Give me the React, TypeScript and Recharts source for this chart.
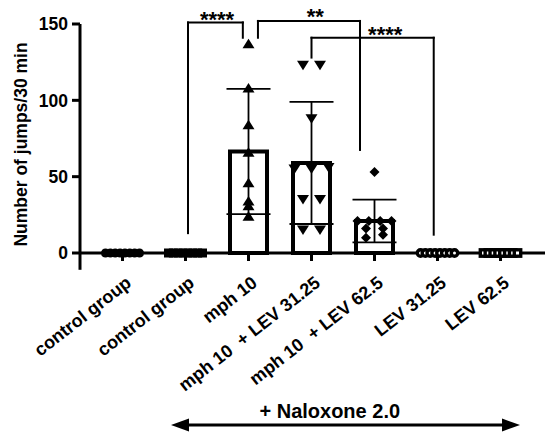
import React from 'react'
import { ComposedChart, Bar, ErrorBar, Scatter, XAxis, YAxis, ReferenceLine, ReferenceDot } from 'recharts'

const groups = ['control group', 'control group', 'mph 10', 'mph 10\u00a0 + LEV 31.25', 'mph 10\u00a0 + LEV 62.5', 'LEV 31.25', 'LEV 62.5']
const means = [0, 0, 66.5, 59, 21, 0, 0]
const sds = [0, 0, 41, 40, 14, 0, 0]

const controlJumps = [0, 0, 0, 0, 0, 0, 0, 0]
const controlNaloxoneJumps = [0, 0, 0, 0, 0, 0, 0, 0]
const mphJumps = [137, 108, 84, 66, 46, 34, 31, 24]
const mphLev31Jumps = [123, 123, 88, 55, 56, 55, 35, 35, 15, 15]
const mphLev62Jumps = [53, 21, 21, 21, 21, 16, 16, 12, 10]
const lev31Jumps = [0, 0, 0, 0, 0, 0, 0, 0]
const lev62Jumps = [0, 0, 0, 0, 0, 0, 0, 0]

const yTicks = [0, 50, 100, 150]

// significance brackets, x in group index units, y in jumps
const brackets = [
  { label: '****', x1: 1.04, x2: 1.91, top: 151, end1: 13, end2: 141, labelX: 1.5, labelY: 148 },
  { label: '**', x1: 2.15, x2: 3.77, top: 152, end1: 141, end2: 67.5, labelX: 3.06, labelY: 150 },
  { label: '****', x1: 3.0, x2: 4.94, top: 141, end1: 128, end2: 12, labelX: 4.17, labelY: 138 },
]

// layout
const W = 550
const H = 439
const MARGIN = { top: 24, right: 5, left: 0, bottom: 0 }
const Y_AXIS_W = 80
const X_AXIS_H = 186
const PAD_L = 11
const PAD_R = 13
const PLOT_W = W - MARGIN.left - MARGIN.right - Y_AXIS_W
const BAND = (PLOT_W - PAD_L - PAD_R) / groups.length
const X_LO = -(0.5 + PAD_L / BAND)
const X_HI = groups.length - 0.5 + PAD_R / BAND
const catX = (i: number) => MARGIN.left + Y_AXIS_W + PAD_L + BAND * (i + 0.5)
const AXIS_Y = H - X_AXIS_H

const FONT = '"Liberation Sans", Arial, sans-serif'

const barData = groups.map((g, i) => ({ id: i, mean: means[i], sd: sds[i] }))

// spread equal-ish values sideways like a column scatter
const SPACING = 17
const ROW_MAX = 34
function swarm(values: number[], index: number) {
  const sorted = [...values].sort((a, b) => a - b)
  const rows: number[][] = []
  for (const v of sorted) {
    const row = rows[rows.length - 1]
    if (row && v - row[0] < 3) row.push(v)
    else rows.push([v])
  }
  return rows.flatMap((row) => {
    const n = row.length
    const step = n > 1 ? Math.min(SPACING, ROW_MAX / (n - 1)) : 0
    return row.map((v, j) => ({ x: index + ((j - (n - 1) / 2) * step) / BAND, y: v }))
  })
}

const FilledCircle = ({ cx, cy }: any) => <circle cx={cx} cy={cy} r={4.5} fill="#000" />
const FilledSquare = ({ cx, cy }: any) => <rect x={cx - 4.5} y={cy - 4.5} width={9} height={9} fill="#000" />
const TriUp = ({ cx, cy }: any) => <path d={`M${cx},${cy - 5}L${cx + 6},${cy + 4.5}L${cx - 6},${cy + 4.5}Z`} fill="#000" />
const TriDown = ({ cx, cy }: any) => <path d={`M${cx - 6},${cy - 4.5}L${cx + 6},${cy - 4.5}L${cx},${cy + 5}Z`} fill="#000" />
const Diamond = ({ cx, cy }: any) => <path d={`M${cx},${cy - 5}L${cx + 5},${cy}L${cx},${cy + 5}L${cx - 5},${cy}Z`} fill="#000" />
const OpenCircle = ({ cx, cy }: any) => <circle cx={cx} cy={cy} r={3.2} fill="#fff" stroke="#000" strokeWidth={3.4} />
const OpenSquare = ({ cx, cy }: any) => <rect x={cx - 3.2} y={cy - 3.2} width={6.4} height={6.4} fill="#fff" stroke="#000" strokeWidth={3.4} />

const series = [
  { values: controlJumps, shape: FilledCircle },
  { values: controlNaloxoneJumps, shape: FilledSquare },
  { values: mphJumps, shape: TriUp },
  { values: mphLev31Jumps, shape: TriDown },
  { values: mphLev62Jumps, shape: Diamond },
  { values: lev31Jumps, shape: OpenCircle },
  { values: lev62Jumps, shape: OpenSquare },
]

const GroupTick = ({ x, y, payload }: any) => (
  <text
    transform={`translate(${x + 10},${y + 22}) rotate(-38)`}
    textAnchor="end"
    fontSize={18}
    fontWeight={700}
    fill="#000"
  >
    {groups[payload.value]}
  </text>
)

const YLabel = ({ viewBox }: any) => {
  const vb = viewBox ?? { y: MARGIN.top, height: AXIS_Y - MARGIN.top }
  const cy = vb.y + vb.height / 2 + 6
  return (
    <text transform={`translate(27,${cy}) rotate(-90)`} textAnchor="middle" fontSize={17.5} fontWeight={700} fill="#000">
      Number of jumps/30 min
    </text>
  )
}

const NaloxoneLabel = () => {
  const y = AXIS_Y + 172
  const left = catX(0.77)
  const right = catX(6.31)
  return (
    <g>
      <text x={catX(3.29)} y={AXIS_Y + 165} textAnchor="middle" fontSize={20} fontWeight={700} fill="#000">
        + Naloxone 2.0
      </text>
      <line x1={left + 10} x2={right - 10} y1={y} y2={y} stroke="#000" strokeWidth={3} />
      <path d={`M${left},${y}L${left + 18},${y - 6.5}L${left + 18},${y + 6.5}Z`} fill="#000" />
      <path d={`M${right},${y}L${right - 18},${y - 6.5}L${right - 18},${y + 6.5}Z`} fill="#000" />
    </g>
  )
}

export default function App() {
  return (
    <div style={{ position: 'absolute', left: 0, top: 0, width: W, height: H, background: '#fff', fontFamily: FONT }}>
      <ComposedChart width={W} height={H} data={barData} margin={MARGIN}>
        <XAxis
          xAxisId="cat"
          dataKey="id"
          type="category"
          height={X_AXIS_H}
          padding={{ left: PAD_L, right: PAD_R }}
          interval={0}
          axisLine={{ stroke: '#000', strokeWidth: 3 }}
          tickLine={{ stroke: '#000', strokeWidth: 3 }}
          tickSize={8}
          tick={<GroupTick />}
          label={<NaloxoneLabel />}
        />
        <XAxis xAxisId="num" dataKey="x" type="number" domain={[X_LO, X_HI]} hide />
        <YAxis
          dataKey="y"
          domain={[0, 150]}
          ticks={yTicks}
          width={Y_AXIS_W}
          axisLine={{ stroke: '#000', strokeWidth: 3 }}
          tickLine={{ stroke: '#000', strokeWidth: 3 }}
          tickSize={8}
          tickMargin={4}
          tick={{ fontSize: 17.5, fontWeight: 700, fill: '#000' }}
          label={<YLabel />}
        />
        <ReferenceLine
          xAxisId="num"
          segment={[{ x: X_LO, y: 0 }, { x: X_LO, y: -11 }]}
          stroke="#000"
          strokeWidth={3}
          ifOverflow="visible"
        />
        <Bar xAxisId="cat" dataKey="mean" barSize={37} fill="#fff" stroke="#000" strokeWidth={4} isAnimationActive={false}>
          <ErrorBar dataKey="sd" width={22} stroke="#000" strokeWidth={1.8} isAnimationActive={false} />
        </Bar>
        {series.map((s, i) => (
          <Scatter
            key={i}
            xAxisId="num"
            data={swarm(s.values, i)}
            dataKey="y"
            shape={s.shape}
            isAnimationActive={false}
          />
        ))}
        {brackets.flatMap((b, i) => [
          <ReferenceLine key={`a${i}`} xAxisId="num" segment={[{ x: b.x1, y: b.end1 }, { x: b.x1, y: b.top }]} stroke="#000" strokeWidth={2} strokeLinecap="square" ifOverflow="visible" />,
          <ReferenceLine key={`b${i}`} xAxisId="num" segment={[{ x: b.x1, y: b.top }, { x: b.x2, y: b.top }]} stroke="#000" strokeWidth={2} strokeLinecap="square" ifOverflow="visible" />,
          <ReferenceLine key={`c${i}`} xAxisId="num" segment={[{ x: b.x2, y: b.top }, { x: b.x2, y: b.end2 }]} stroke="#000" strokeWidth={2} strokeLinecap="square" ifOverflow="visible" />,
          <ReferenceDot
            key={`d${i}`}
            xAxisId="num"
            x={b.labelX}
            y={b.labelY}
            r={0}
            fill="none"
            stroke="none"
            ifOverflow="visible"
            label={{ value: b.label, position: 'top', offset: 0, fontSize: 22, fontWeight: 700, fill: '#000' }}
          />,
        ])}
      </ComposedChart>
    </div>
  )
}
